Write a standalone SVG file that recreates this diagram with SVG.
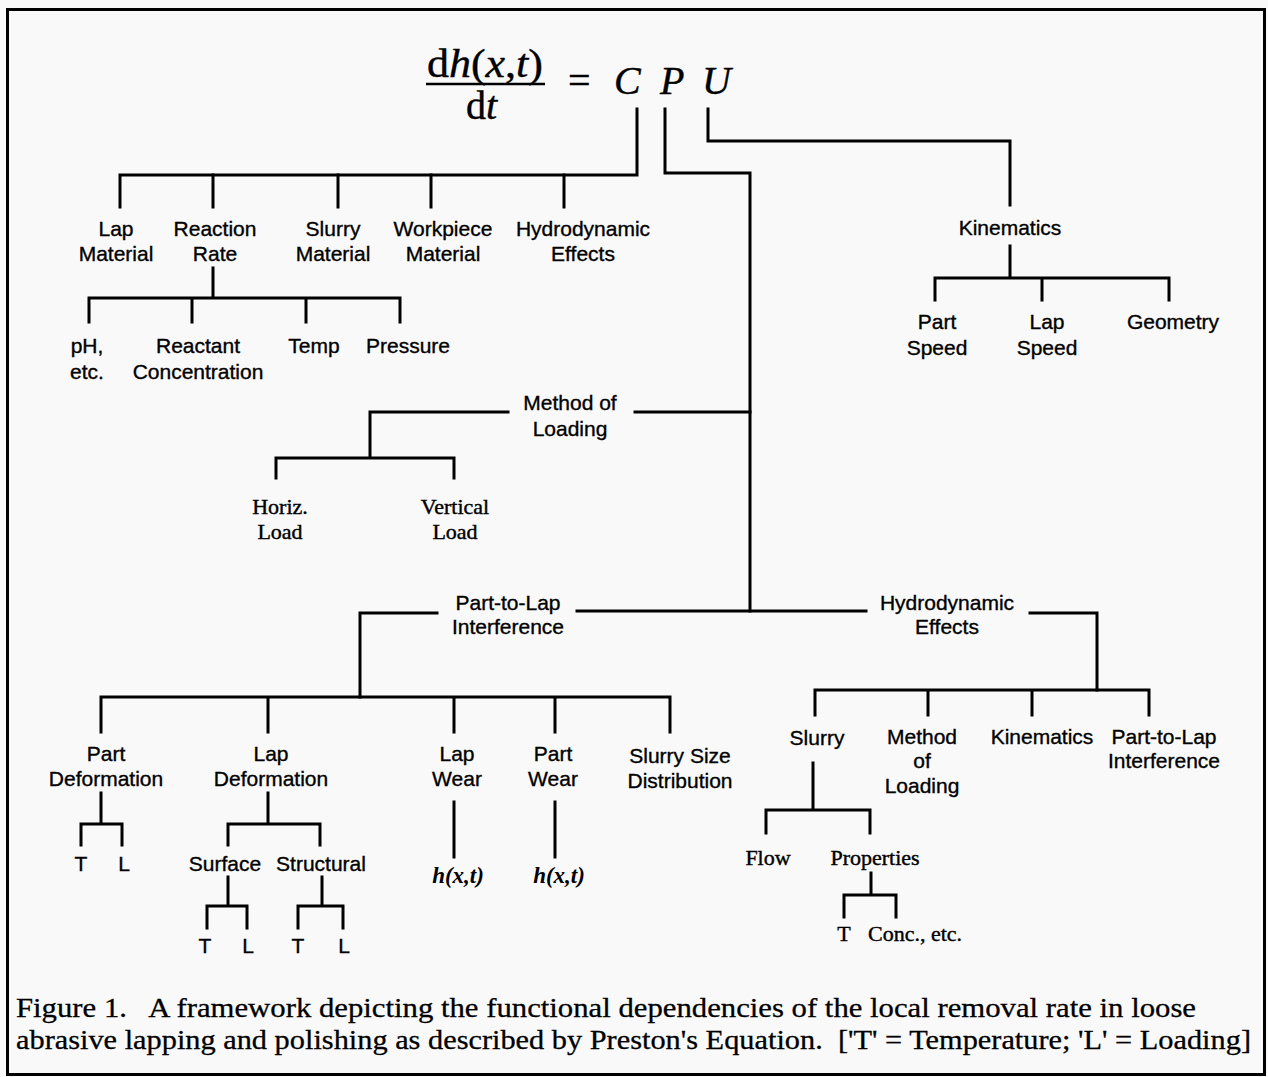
<svg xmlns="http://www.w3.org/2000/svg" width="1268" height="1077" viewBox="0 0 1268 1077">
<style>
.s{font-family:"Liberation Sans",Arial,sans-serif;font-size:21px;fill:#000;text-anchor:middle;stroke:#000;stroke-width:0.35}
.r{font-family:"Liberation Serif","Times New Roman",serif;font-size:22px;fill:#000;text-anchor:middle;stroke:#000;stroke-width:0.4}
.m{font-family:"Liberation Serif","Times New Roman",serif;font-style:italic;font-weight:bold;font-size:23px;fill:#000;text-anchor:middle}
.eq{font-family:"Liberation Serif","Times New Roman",serif;font-size:40px;fill:#000;stroke:#000;stroke-width:0.4}
.cap{font-family:"Liberation Serif","Times New Roman",serif;font-size:28px;fill:#000;white-space:pre;stroke:#000;stroke-width:0.3}
.c path{fill:none;stroke:#000;stroke-width:3;stroke-linecap:square}
</style>
<rect x="0" y="0" width="1268" height="1077" fill="#f9f9f9"/>
<rect x="7.5" y="9.5" width="1257" height="1065" fill="none" stroke="#000" stroke-width="3"/>

<g id="equation">
<text class="eq" x="427" y="77" textLength="116" lengthAdjust="spacingAndGlyphs">d<tspan font-style="italic">h</tspan>(<tspan font-style="italic">x</tspan>,<tspan font-style="italic">t</tspan>)</text>
<line x1="426" y1="84" x2="545" y2="84" stroke="#000" stroke-width="2.5"/>
<text class="eq" x="466" y="119">d<tspan font-style="italic">t</tspan></text>
<text class="eq" x="568" y="94">=</text>
<text class="eq" x="614" y="94" font-style="italic">C</text>
<text class="eq" x="660" y="94" font-style="italic">P</text>
<text class="eq" x="702" y="94" font-style="italic">U</text>
</g>

<g class="c" id="connectors">
<path d="M637,109 V175 H120 V207"/>
<path d="M213,175 V207 M338,175 V207 M431,175 V207 M564,175 V207"/>
<path d="M665,109 V173 H750 V611"/>
<path d="M708,109 V141 H1010 V205"/>
<path d="M213,268 V298 M89,322 V298 H400 V322 M192,298 V322 M306,298 V322"/>
<path d="M635,412 H750"/>
<path d="M508,412 H370 V458 M276,478 V458 H454 V478"/>
<path d="M577,611 H866"/>
<path d="M437,613 H360 V697"/>
<path d="M1030,613 H1097 V690"/>
<path d="M101,732 V697 H670 V732 M268,697 V732 M454,697 V732 M555,697 V732"/>
<path d="M101,793 V824 M81,845 V824 H122 V845"/>
<path d="M268,793 V824 M228,845 V824 H320 V845"/>
<path d="M228,877 V906 M207,928 V906 H247 V928"/>
<path d="M322,877 V906 M298,928 V906 H343 V928"/>
<path d="M454,802 V857 M555,802 V857"/>
<path d="M815,715 V690 H1149 V715 M928,690 V715 M1032,690 V715"/>
<path d="M813,763 V810 M766,833 V810 H870 V833"/>
<path d="M871,873 V895 M844,917 V895 H896 V917"/>
<path d="M1010,246 V278 M935,300 V278 H1169 V300 M1042,278 V300"/>
</g>

<g id="lap-material"><text class="s" x="116" y="236">Lap</text><text class="s" x="116" y="261">Material</text></g>
<g id="reaction-rate"><text class="s" x="215" y="236">Reaction</text><text class="s" x="215" y="261">Rate</text></g>
<g id="slurry-material"><text class="s" x="333" y="236">Slurry</text><text class="s" x="333" y="261">Material</text></g>
<g id="workpiece-material"><text class="s" x="443" y="236">Workpiece</text><text class="s" x="443" y="261">Material</text></g>
<g id="hydro-effects-c"><text class="s" x="583" y="236">Hydrodynamic</text><text class="s" x="583" y="261">Effects</text></g>

<g id="ph"><text class="s" x="87" y="353">pH,</text><text class="s" x="87" y="379">etc.</text></g>
<g id="reactant"><text class="s" x="198" y="353">Reactant</text><text class="s" x="198" y="379">Concentration</text></g>
<g id="temp"><text class="s" x="314" y="353">Temp</text></g>
<g id="pressure"><text class="s" x="408" y="353">Pressure</text></g>

<g id="kinematics-u"><text class="s" x="1010" y="235">Kinematics</text></g>
<g id="part-speed"><text class="s" x="937" y="329">Part</text><text class="s" x="937" y="355">Speed</text></g>
<g id="lap-speed"><text class="s" x="1047" y="329">Lap</text><text class="s" x="1047" y="355">Speed</text></g>
<g id="geometry"><text class="s" x="1173" y="329">Geometry</text></g>

<g id="method-of-loading"><text class="s" x="570" y="410">Method of</text><text class="s" x="570" y="436">Loading</text></g>
<g id="horiz-load"><text class="r" x="280" y="514">Horiz.</text><text class="r" x="280" y="539">Load</text></g>
<g id="vertical-load"><text class="r" x="455" y="514">Vertical</text><text class="r" x="455" y="539">Load</text></g>

<g id="part-to-lap"><text class="s" x="508" y="610">Part-to-Lap</text><text class="s" x="508" y="634">Interference</text></g>
<g id="hydro-effects-p"><text class="s" x="947" y="610">Hydrodynamic</text><text class="s" x="947" y="634">Effects</text></g>

<g id="part-deformation"><text class="s" x="106" y="761">Part</text><text class="s" x="106" y="786">Deformation</text></g>
<g id="lap-deformation"><text class="s" x="271" y="761">Lap</text><text class="s" x="271" y="786">Deformation</text></g>
<g id="lap-wear"><text class="s" x="457" y="761">Lap</text><text class="s" x="457" y="786">Wear</text></g>
<g id="part-wear"><text class="s" x="553" y="761">Part</text><text class="s" x="553" y="786">Wear</text></g>
<g id="slurry-size"><text class="s" x="680" y="763">Slurry Size</text><text class="s" x="680" y="788">Distribution</text></g>

<g id="pd-t"><text class="s" x="81" y="871">T</text></g>
<g id="pd-l"><text class="s" x="124" y="871">L</text></g>
<g id="surface"><text class="s" x="225" y="871">Surface</text></g>
<g id="structural"><text class="s" x="321" y="871">Structural</text></g>
<g id="su-t"><text class="s" x="205" y="953">T</text></g>
<g id="su-l"><text class="s" x="248" y="953">L</text></g>
<g id="st-t"><text class="s" x="298" y="953">T</text></g>
<g id="st-l"><text class="s" x="344" y="953">L</text></g>
<g id="lw-h"><text class="m" x="458" y="883">h(x,t)</text></g>
<g id="pw-h"><text class="m" x="559" y="883">h(x,t)</text></g>

<g id="slurry"><text class="s" x="817" y="745">Slurry</text></g>
<g id="method-of-loading-h"><text class="s" x="922" y="744">Method</text><text class="s" x="922" y="768">of</text><text class="s" x="922" y="793">Loading</text></g>
<g id="kinematics-h"><text class="s" x="1042" y="744">Kinematics</text></g>
<g id="part-to-lap-h"><text class="s" x="1164" y="744">Part-to-Lap</text><text class="s" x="1164" y="768">Interference</text></g>
<g id="flow"><text class="r" x="768" y="865">Flow</text></g>
<g id="properties"><text class="r" x="875" y="865">Properties</text></g>
<g id="pr-t"><text class="r" x="844" y="941">T</text></g>
<g id="pr-conc"><text class="r" x="915" y="941">Conc., etc.</text></g>

<g id="caption">
<text class="cap" x="16" y="1017" textLength="1180" lengthAdjust="spacingAndGlyphs" xml:space="preserve">Figure 1.   A framework depicting the functional dependencies of the local removal rate in loose</text>
<text class="cap" x="16" y="1049" textLength="1235" lengthAdjust="spacingAndGlyphs" xml:space="preserve">abrasive lapping and polishing as described by Preston's Equation.  ['T' = Temperature; 'L' = Loading]</text>
</g>
</svg>
